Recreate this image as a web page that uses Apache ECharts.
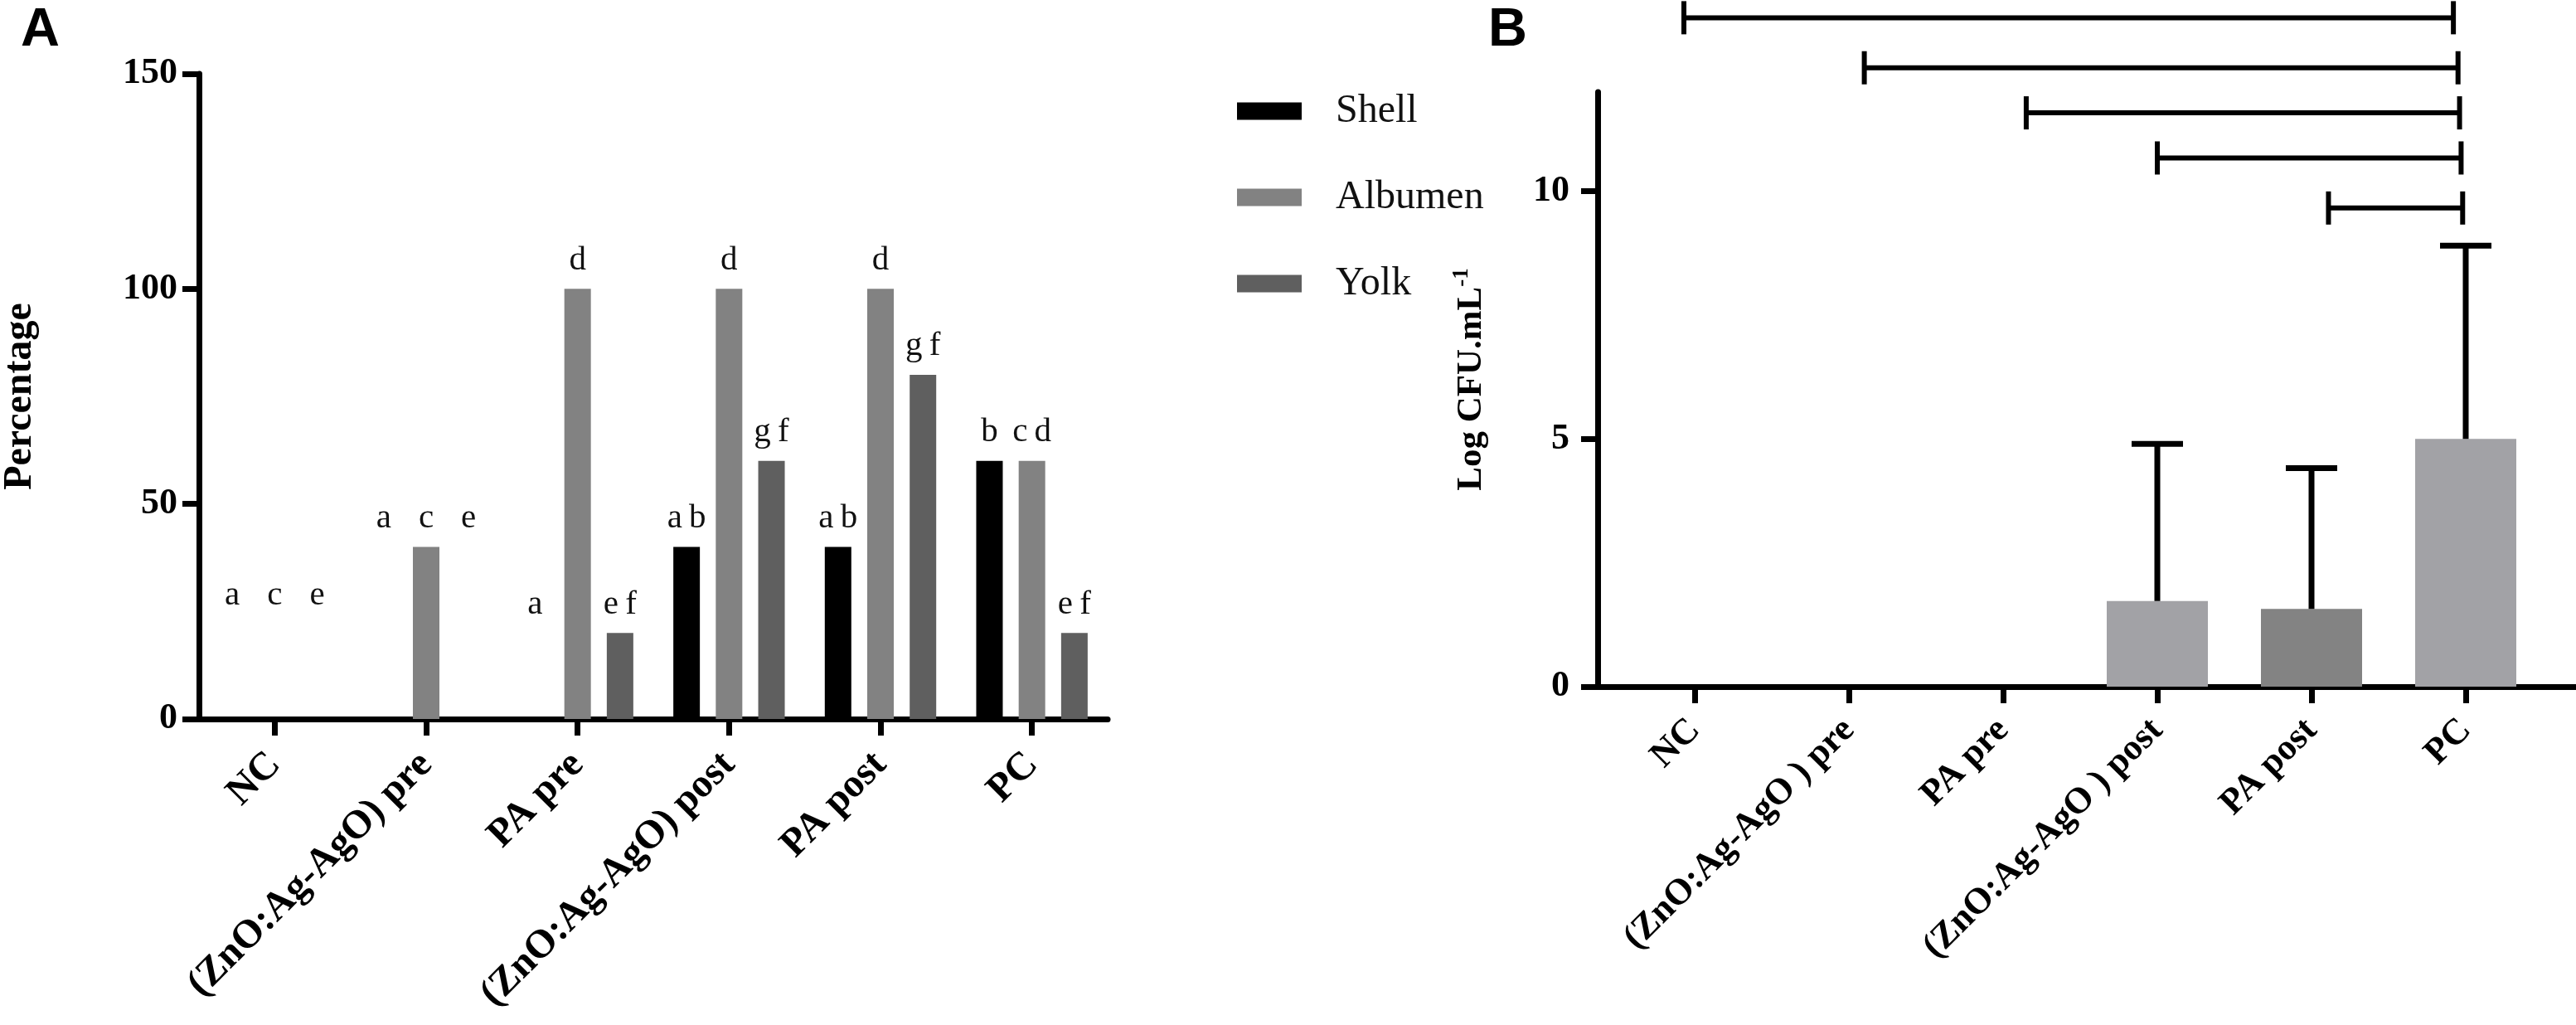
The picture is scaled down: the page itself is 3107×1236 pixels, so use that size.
<!DOCTYPE html>
<html>
<head>
<meta charset="utf-8">
<script src="https://cdn.jsdelivr.net/npm/echarts@6/dist/echarts.min.js"></script>
<style>
  html, body { margin: 0; padding: 0; background: #fff; }
  #main { width: 3107px; height: 1236px; }
</style>
</head>
<body>
<div id="main"></div>
<script>
// Panel A: percentage of positive samples per egg part
const groupsA = ["NC", "(ZnO:Ag-AgO) pre", "PA pre", "(ZnO:Ag-AgO) post", "PA post", "PC"];
const shell = [0, 0, 0, 40, 40, 60];
const albumen = [0, 40, 100, 100, 100, 60];
const yolk = [0, 0, 20, 60, 80, 20];
const shellLetters = ["a", "a", "a", "a\u2009b", "a\u2009b", "b"];
const albumenLetters = ["c", "c", "d", "d", "d", "c\u2009d"];
const yolkLetters = ["e", "e", "e\u2009f", "g\u2009f", "g\u2009f", "e\u2009f"];
const ticksA = [0, 50, 100, 150];

// Panel B: Log CFU per mL
const groupsB = ["NC", "(ZnO:Ag-AgO ) pre", "PA pre", "(ZnO:Ag-AgO ) post", "PA post", "PC"];
const logCfu = [0, 0, 0, 1.73, 1.57, 5.0];
const logCfuUpper = [0, 0, 0, 4.9, 4.41, 8.9];
const ticksB = [0, 5, 10];
// significance brackets: from category position to PC, at a height in Log units
const bracketStart = [-0.07, 1.10, 2.15, 3.0, 4.11];
const bracketEnd = [4.92, 4.95, 4.96, 4.97, 4.98];
const bracketLevel = [13.5, 12.49, 11.58, 10.67, 9.66];

const serif = "Liberation Serif";
const ink = "#000";
const colShell = "#000000";
const colAlbumen = "#828282";
const colYolk = "#5f5f5f";
const colLight = "#a2a2a6";
const colDark = "#838383";

const gridA = { left: 218, top: 89, width: 1118, height: 778 };
const pxPerPct = gridA.height / 150;

function anchorOf(i, v) {
    if (v > 0) return v;
    let group = [shell[i], albumen[i], yolk[i]].filter(x => x > 0);
    return group.length ? Math.min(...group) : 22;
}

function barA(name, values, letters, color) {
    return {
        name: name,
        type: "bar",
        xAxisIndex: 0,
        yAxisIndex: 0,
        barWidth: 32,
        barGap: "60%",
        itemStyle: { color: color },
        data: values.map((v, i) => ({
            value: v,
            label: { offset: [0, -(anchorOf(i, v) - v) * pxPerPct] }
        })),
        label: {
            show: true,
            position: "top",
            distance: 14,
            formatter: p => letters[p.dataIndex],
            fontFamily: serif,
            fontSize: 41,
            color: "#111"
        }
    };
}

let chart = echarts.init(document.getElementById("main"));

let axisLineStyle = { lineStyle: { color: ink, width: 7 } };
let tickStyle = { show: true, length: 20, lineStyle: { color: ink, width: 7 } };
let numLabel = { fontFamily: serif, fontSize: 44, fontWeight: "bold", color: ink };
let catLabelA = { fontFamily: serif, fontSize: 48, fontWeight: "bold", color: ink, rotate: 45, margin: 48, interval: 0 };
let catLabelB = { fontFamily: serif, fontSize: 44, fontWeight: "bold", color: ink, rotate: 45, margin: 46, interval: 0 };

let option = {
    backgroundColor: "#fff",
    animation: false,
    title: [
        { text: "A", left: 20, top: 0, textStyle: { fontFamily: "Liberation Sans", fontWeight: "bold", fontSize: 65, color: ink } },
        { text: "B", left: 1790, top: 0, textStyle: { fontFamily: "Liberation Sans", fontWeight: "bold", fontSize: 65, color: ink } }
    ],
    legend: {
        data: ["Shell", "Albumen", "Yolk"],
        orient: "vertical",
        left: 1492,
        top: 108,
        padding: 0,
        itemWidth: 78,
        itemHeight: 21,
        itemGap: 52,
        icon: "rect",
        textStyle: { fontFamily: serif, fontSize: 48, lineHeight: 52, color: "#111", padding: [0, 0, 0, 36] }
    },
    grid: [
        gridA,
        { left: 1927, top: 111, width: 1180, height: 717 },
        { left: 1951, top: 111, width: 1116, height: 717 }
    ],
    xAxis: [
        {
            gridIndex: 0,
            type: "category",
            data: groupsA,
            axisLine: axisLineStyle,
            axisTick: Object.assign({ alignWithLabel: true }, tickStyle),
            axisLabel: catLabelA
        },
        {
            gridIndex: 1,
            type: "value",
            min: 0,
            max: 1,
            axisLine: Object.assign({ show: true }, axisLineStyle),
            axisTick: { show: false },
            axisLabel: { show: false },
            splitLine: { show: false }
        },
        {
            gridIndex: 2,
            type: "category",
            data: groupsB,
            axisLine: { show: false },
            axisTick: Object.assign({ alignWithLabel: true }, tickStyle),
            axisLabel: catLabelB
        }
    ],
    yAxis: [
        {
            gridIndex: 0,
            type: "value",
            min: 0,
            max: 150,
            interval: 50,
            axisLine: Object.assign({ show: true }, axisLineStyle),
            axisTick: tickStyle,
            axisLabel: Object.assign({ margin: 26, customValues: ticksA }, numLabel),
            splitLine: { show: false },
            name: "Percentage",
            nameLocation: "middle",
            nameRotate: 90,
            nameGap: 191,
            nameTextStyle: { fontFamily: serif, fontSize: 48, fontWeight: "bold", color: ink }
        },
        {
            gridIndex: 1,
            type: "value",
            min: 0,
            max: 12,
            axisLine: Object.assign({ show: true }, axisLineStyle),
            axisTick: Object.assign({ customValues: ticksB }, tickStyle),
            axisLabel: Object.assign({ margin: 34, customValues: ticksB }, numLabel),
            splitLine: { show: false },
            name: "{m|Log CFU.mL}{s|-1}",
            nameLocation: "middle",
            nameRotate: 90,
            nameGap: 128,
            nameTextStyle: {
                padding: [0, 0, 0, 24],
                rich: {
                    m: { fontFamily: serif, fontSize: 43, fontWeight: "bold", color: ink },
                    s: { fontFamily: serif, fontSize: 27, fontWeight: "bold", color: ink, padding: [0, 0, 22, 0] }
                }
            }
        },
        {
            gridIndex: 2,
            type: "value",
            min: 0,
            max: 12,
            show: false
        }
    ],
    series: [
        barA("Shell", shell, shellLetters, colShell),
        barA("Albumen", albumen, albumenLetters, colAlbumen),
        barA("Yolk", yolk, yolkLetters, colYolk),
        {
            name: "Log CFU",
            type: "bar",
            xAxisIndex: 2,
            yAxisIndex: 2,
            barWidth: 122,
            data: logCfu.map((v, i) => ({
                value: v,
                itemStyle: { color: i === 4 ? colDark : colLight }
            }))
        },
        {
            name: "SD",
            type: "custom",
            xAxisIndex: 2,
            yAxisIndex: 2,
            clip: false,
            z: 5,
            data: logCfuUpper.map((u, i) => [i, logCfu[i], u]),
            renderItem: function (params, api) {
                let i = params.dataIndex;
                if (logCfuUpper[i] <= logCfu[i]) return null;
                let base = api.coord([i, logCfu[i]]);
                let top = api.coord([i, logCfuUpper[i]]);
                let style = { stroke: ink, lineWidth: 7 };
                return {
                    type: "group",
                    children: [
                        { type: "line", shape: { x1: base[0], y1: base[1], x2: top[0], y2: top[1] }, style: style },
                        { type: "line", shape: { x1: top[0] - 31, y1: top[1], x2: top[0] + 31, y2: top[1] }, style: style }
                    ]
                };
            }
        },
        {
            name: "Brackets",
            type: "custom",
            xAxisIndex: 2,
            yAxisIndex: 2,
            clip: false,
            z: 5,
            data: bracketLevel.map((v, i) => [Math.round(bracketStart[i]), v]),
            renderItem: function (params, api) {
                let i = params.dataIndex;
                let band = api.size([1, 0])[0];
                let s = Math.round(bracketStart[i]);
                let e = Math.round(bracketEnd[i]);
                let p1 = api.coord([s, bracketLevel[i]]);
                let p2 = api.coord([e, bracketLevel[i]]);
                let x1 = p1[0] + (bracketStart[i] - s) * band;
                let x2 = p2[0] + (bracketEnd[i] - e) * band;
                let y = p1[1];
                let style = { stroke: ink, lineWidth: 6 };
                return {
                    type: "group",
                    children: [
                        { type: "line", shape: { x1: x1, y1: y, x2: x2, y2: y }, style: style },
                        { type: "line", shape: { x1: x1, y1: y - 20, x2: x1, y2: y + 20 }, style: style },
                        { type: "line", shape: { x1: x2, y1: y - 20, x2: x2, y2: y + 20 }, style: style }
                    ]
                };
            }
        }
    ]
};

chart.setOption(option);
</script>
</body>
</html>
